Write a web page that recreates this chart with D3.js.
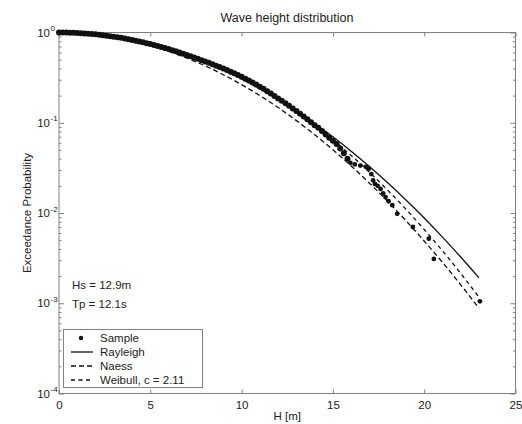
<!DOCTYPE html>
<html>
<head>
<meta charset="utf-8">
<script src="https://cdn.jsdelivr.net/npm/d3@7"></script>
<style>
  html, body { margin: 0; padding: 0; background: #fff; }
  svg { display: block; font-family: "Liberation Sans", Arial, Helvetica, sans-serif; }
</style>
</head>
<body>
<svg id="chart" width="522" height="424"></svg>
<script>
// ---------- data ----------
const TITLE = "Wave height distribution";
const X_LABEL = "H [m]";
const Y_LABEL = "Exceedance Probability";
const X_TICKS = [0, 5, 10, 15, 20, 25];
const Y_TICKS = [1, 0.1, 0.01, 0.001, 0.0001];
const Y_TICK_EXP = ["0", "-1", "-2", "-3", "-4"];
const ANNOTATIONS = ["Hs = 12.9m", "Tp = 12.1s"];
const LEGEND = ["Sample", "Rayleigh", "Naess", "Weibull, c = 2.11"];

const H_SAMPLE = [0,0.2,0.4,0.6,0.8,1.0,1.2,1.4,1.6,1.8,2.0,2.2,2.4,2.6,2.8,3.0,3.2,3.4,3.6,3.8,
  4.0,4.2,4.4,4.6,4.8,5.0,5.2,5.4,5.6,5.8,6.0,6.2,6.4,6.6,6.8,7.0,7.2,7.4,7.6,7.8,
  8.0,8.2,8.4,8.6,8.8,9.0,9.2,9.4,9.6,9.8,10.0,10.2,10.4,10.6,10.8,11.0,11.2,11.4,11.6,11.8,
  12.0,12.2,12.4,12.6,12.8,13.0,13.2,13.4,13.6,13.8,14.0,
  14.2,14.4,14.6,14.8,15.0,15.2,15.4,15.6,15.8,15.96,16.2,16.5,16.8,16.96,17.1,17.2,17.3,17.45,17.61,
  17.75,17.88,18.05,18.25,18.52,19.38,20.25,20.53,23.05];
const P_SAMPLE = [1.000,0.999,0.998,0.996,0.992,0.988,0.983,0.977,0.970,0.962,0.954,0.944,0.934,0.923,0.911,0.899,0.886,0.872,0.858,0.843,
  0.828,0.812,0.795,0.779,0.762,0.745,0.727,0.709,0.691,0.673,0.655,0.637,0.619,0.601,0.583,0.565,0.547,0.529,0.512,0.494,
  0.477,0.461,0.445,0.429,0.414,0.398,0.383,0.368,0.353,0.338,0.323,0.308,0.293,0.279,0.265,0.251,0.238,0.224,0.211,0.198,
  0.186,0.175,0.164,0.154,0.144,0.135,0.126,0.117,0.109,0.101,0.094,
  0.088,0.081,0.074,0.068,0.063,0.058,0.052,0.046,0.040,0.036,0.0345,0.0335,0.0325,0.031,0.027,0.023,0.021,0.020,0.0185,
  0.0165,0.0150,0.0135,0.0122,0.0098,0.0070,0.0052,0.0031,0.00105];

const H_CURVE = [0,1,2,3,4,5,6,7,8,9,10,11,12,13,14,15,16,17,18,19,20,21,22,23];
const P_RAYLEIGH = [1,0.9882,0.9538,0.8990,0.8275,0.7439,0.6531,0.5600,0.4689,0.3834,0.3062,0.2389,0.1819,0.1353,
  0.0983,0.0698,0.0483,0.0327,0.0216,0.01395,0.00880,0.00541,0.00325,0.00191];
const P_NAESS = [1,0.9868,0.9482,0.8872,0.8083,0.7171,0.6196,0.5212,0.4269,0.3405,0.2645,0.2000,0.1473,0.1056,
  0.0738,0.0502,0.0332,0.0214,0.01344,0.00822,0.00489,0.00284,0.00160,0.00088];
const P_WEIBULL = [1,0.9910,0.9617,0.9123,0.8450,0.7636,0.6729,0.5779,0.4834,0.3937,0.3122,0.2409,0.1808,0.1320,
  0.0937,0.0646,0.0433,0.0283,0.0179,0.0110,0.00657,0.00381,0.00214,0.00117];

// ---------- layout ----------
const svg = d3.select("#chart");
const L = 59, R = 515.5, T = 32.5, B = 393.5;
const x = d3.scaleLinear().domain([0, 25]).range([L, R]);
const y = d3.scaleLog().domain([1e-4, 1]).range([B, T]);
const AX = "#808080", TXT = "#222";

svg.append("rect").attr("width", 522).attr("height", 424).attr("fill", "#fff");

// title
svg.append("text").attr("x", 287).attr("y", 22).attr("text-anchor", "middle")
  .attr("font-size", 12.5).attr("fill", TXT).text(TITLE);

// axes box
svg.append("rect").attr("x", L).attr("y", T).attr("width", R - L).attr("height", B - T)
  .attr("fill", "none").attr("stroke", AX).attr("stroke-width", 1);

// x ticks bottom & top
const xb = d3.axisBottom(x).tickValues(X_TICKS).tickSizeInner(-4).tickSizeOuter(0).tickPadding(7).tickFormat(d3.format("d"));
const gxb = svg.append("g").attr("transform", `translate(0,${B})`).call(xb);
const xt = d3.axisTop(x).tickValues(X_TICKS).tickSizeInner(-4).tickSizeOuter(0).tickFormat("");
const gxt = svg.append("g").attr("transform", `translate(0,${T})`).call(xt);
[gxb, gxt].forEach(g => {
  g.select(".domain").remove();
  g.selectAll(".tick line").attr("stroke", AX);
  g.selectAll(".tick text").attr("fill", TXT).attr("font-size", 11.5)
    .attr("font-family", "'Liberation Sans', Arial, sans-serif");
});

// y ticks (major + minor) left & right
const minor = [];
for (let e = -4; e < 0; e++) for (let m = 2; m <= 9; m++) minor.push(m * Math.pow(10, e));
function yAxis(gen, xpos, vals, size) {
  const g = svg.append("g").attr("transform", `translate(${xpos},0)`)
    .call(gen(y).tickValues(vals).tickSizeInner(size).tickSizeOuter(0).tickFormat(""));
  g.select(".domain").remove();
  g.selectAll(".tick line").attr("stroke", AX);
}
yAxis(d3.axisLeft, L, Y_TICKS, -5);
yAxis(d3.axisLeft, L, minor, -2.5);
yAxis(d3.axisRight, R, Y_TICKS, -5);
yAxis(d3.axisRight, R, minor, -2.5);

// y tick labels with superscript
Y_TICKS.forEach((v, i) => {
  svg.append("text").attr("x", 50).attr("y", y(v) + 4).attr("text-anchor", "end")
    .attr("font-size", 11.5).attr("fill", TXT).text("10");
  svg.append("text").attr("x", 50.5).attr("y", y(v) - 1.5).attr("text-anchor", "start")
    .attr("font-size", 8).attr("fill", TXT).text(Y_TICK_EXP[i]);
});

// axis labels
svg.append("text").attr("x", (L + R) / 2).attr("y", 420).attr("text-anchor", "middle")
  .attr("font-size", 11.5).attr("fill", TXT).text(X_LABEL);
svg.append("text").attr("transform", `translate(31,${(T + B) / 2}) rotate(-90)`)
  .attr("text-anchor", "middle").attr("font-size", 11.5).attr("fill", TXT).text(Y_LABEL);

// curves
const line = d3.line().x(d => x(d[0])).y(d => y(d[1])).curve(d3.curveMonotoneX);
const DASH_NAESS = "5,3", DASH_WEIBULL = "4,3.5";
const curves = [
  {p: P_RAYLEIGH, dash: null},
  {p: P_NAESS, dash: DASH_NAESS},
  {p: P_WEIBULL, dash: DASH_WEIBULL}
];
curves.forEach(c => {
  svg.append("path").datum(H_CURVE.map((h, i) => [h, c.p[i]]))
    .attr("d", line).attr("fill", "none").attr("stroke", "#111").attr("stroke-width", 1.3)
    .attr("stroke-dasharray", c.dash);
});

// samples
svg.append("g").selectAll("circle").data(H_SAMPLE.map((h, i) => [h, P_SAMPLE[i]]))
  .join("circle").attr("cx", d => x(d[0])).attr("cy", d => y(d[1]))
  .attr("r", d => d[0] < 15.9 ? 3 : 2.4).attr("fill", "#111");

// annotations
ANNOTATIONS.forEach((s, i) => {
  svg.append("text").attr("x", 72).attr("y", 289 + i * 18.5).attr("font-size", 11.5)
    .attr("fill", TXT).text(s);
});

// legend
const lg = svg.append("g");
lg.append("rect").attr("x", 63.5).attr("y", 329.5).attr("width", 139).attr("height", 58)
  .attr("fill", "#fff").attr("stroke", AX);
const dashes = [null, null, DASH_NAESS, DASH_WEIBULL];
LEGEND.forEach((s, i) => {
  const cy = 338 + i * 14;
  if (i === 0) {
    lg.append("circle").attr("cx", 81).attr("cy", cy).attr("r", 2.2).attr("fill", "#111");
  } else {
    lg.append("line").attr("x1", 71).attr("x2", 93).attr("y1", cy).attr("y2", cy)
      .attr("stroke", "#111").attr("stroke-width", 1.3).attr("stroke-dasharray", dashes[i]);
  }
  lg.append("text").attr("x", 100).attr("y", cy + 4).attr("font-size", 11.5).attr("fill", TXT).text(s);
});
</script>
</body>
</html>
